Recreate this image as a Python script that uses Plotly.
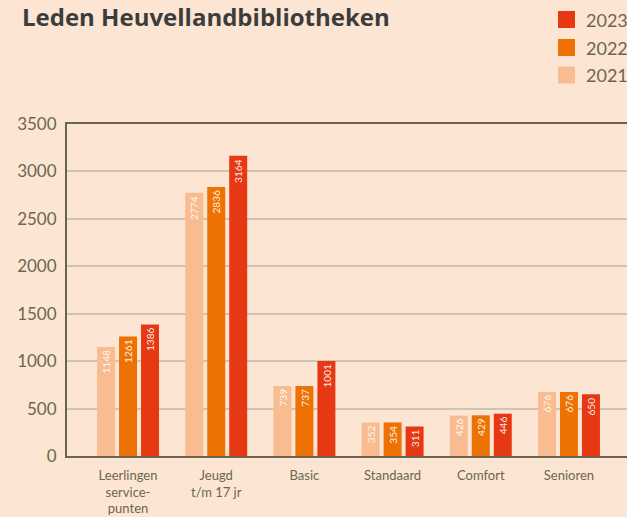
import plotly.graph_objects as go

categories = ["Leerlingen<br>service-<br>punten", "Jeugd<br>t/m 17 jr", "Basic", "Standaard", "Comfort", "Senioren"]
years = ["2021", "2022", "2023"]
values_2021 = [1148, 2774, 739, 352, 426, 676]
values_2022 = [1261, 2836, 737, 354, 429, 676]
values_2023 = [1386, 3164, 1001, 311, 446, 650]
colors = ["#f8bc90", "#ee7203", "#e63812"]
y_ticks = [0, 500, 1000, 1500, 2000, 2500, 3000, 3500]

BG = "#fde5d4"
AXIS = "#6b6650"
GRID = "#cdc4b3"
FONT = "Lato, 'Open Sans', sans-serif"

fig = go.Figure()
series = [values_2021, values_2022, values_2023]
xs = list(range(len(categories)))
for name, vals, col in zip(years, series, colors):
    fig.add_trace(go.Bar(
        x=xs, y=vals, name=name, marker=dict(color=col, line=dict(width=0)),
        text=[str(v) for v in vals], textposition="inside", insidetextanchor="end",
        textangle=-90, textfont=dict(color="rgba(255,255,255,0.95)", size=11, family=FONT),
        showlegend=False, cliponaxis=False, hoverinfo="skip",
    ))

# plot-area geometry in pixels (for legend placement)
W, H = 627, 517
L, R, T, B = 67, 0, 124, 61
pw, ph = W - L - R, H - T - B

def px_to_paper(xp, yp):
    return (xp - L) / pw, (H - B - yp) / ph

shapes = []
annotations = []
legend_rows = [("2023", colors[2], 19.5), ("2022", colors[1], 47.5), ("2021", colors[0], 75)]
for name, col, yc in legend_rows:
    x0, y0 = px_to_paper(558, yc + 8.5)
    x1, y1 = px_to_paper(575, yc - 8.5)
    shapes.append(dict(type="rect", xref="paper", yref="paper", x0=x0, x1=x1, y0=y0, y1=y1,
                       fillcolor=col, line=dict(width=0)))
    tx, ty = px_to_paper(584, yc)
    annotations.append(dict(text=name, xref="paper", yref="paper", x=tx, y=ty, xanchor="left",
                            yanchor="middle", showarrow=False,
                            font=dict(size=18, color=AXIS, family=FONT)))

fig.update_layout(
    width=W, height=H,
    paper_bgcolor=BG, plot_bgcolor=BG,
    margin=dict(l=L, r=R, t=T, b=B, pad=0),
    barmode="group", bargap=0.252, bargroupgap=0.182,
    title=dict(text="<b>Leden Heuvellandbibliotheken</b>", x=22 / W, xanchor="left",
               y=1 - 18 / H, yanchor="middle", xref="container", yref="container",
               font=dict(size=24, color="#3c3c3b", family="'Open Sans', sans-serif")),
    shapes=shapes, annotations=annotations,
    showlegend=False,
    xaxis=dict(tickmode="array", tickvals=xs, ticktext=categories, range=[-0.692, 5.658],
               showline=True, linecolor=AXIS, linewidth=2, mirror=True, showgrid=False,
               ticks="outside", ticklen=6, tickcolor="rgba(0,0,0,0)",
               tickfont=dict(size=13, color=AXIS, family=FONT), zeroline=False),
    yaxis=dict(range=[0, 3500], tickvals=y_ticks, showline=True, linecolor=AXIS, linewidth=2,
               showgrid=True, gridcolor=GRID, gridwidth=1.5, zeroline=False,
               ticks="outside", ticklen=5, tickcolor="rgba(0,0,0,0)",
               tickfont=dict(size=17, color=AXIS, family=FONT)),
)

fig.write_html("out.html", config={"displayModeBar": False},
               post_script="document.body.style.margin='0';document.body.style.overflow='hidden';")
